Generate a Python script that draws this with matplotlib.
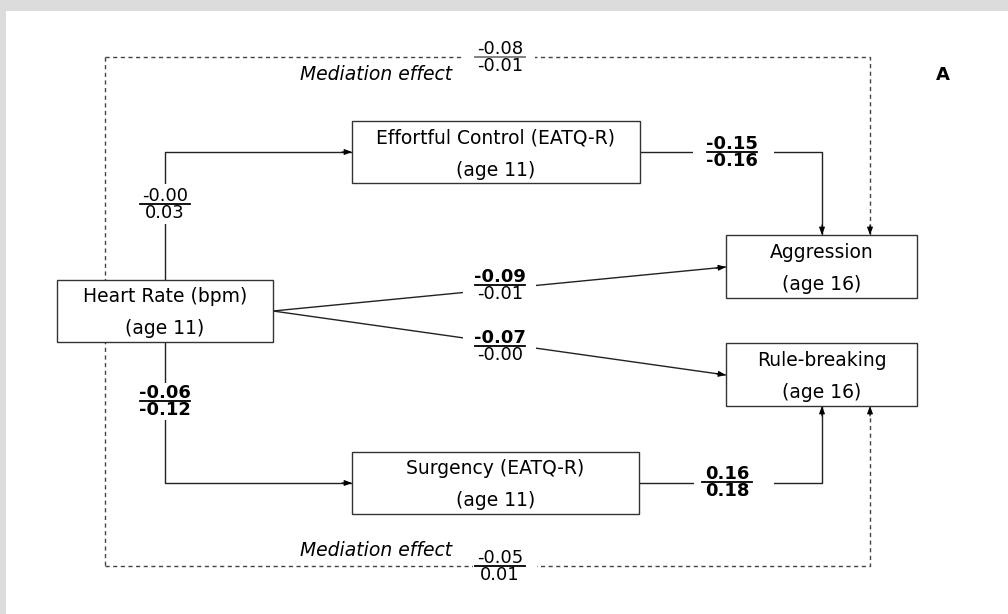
import matplotlib
matplotlib.use("Agg")
import matplotlib.pyplot as plt
from matplotlib.patches import Rectangle, FancyArrowPatch

# ---------------- data ----------------
box_titles = ["Heart Rate (bpm)", "Effortful Control (EATQ-R)", "Surgency (EATQ-R)",
              "Aggression", "Rule-breaking"]
box_ages = ["(age 11)", "(age 11)", "(age 11)", "(age 16)", "(age 16)"]

path_names = ["HR-EC", "HR-SU", "EC-AG", "SU-RB", "HR-AG", "HR-RB", "MED-AG", "MED-RB"]
coef_top = ["-0.00", "-0.06", "-0.15", "0.16", "-0.09", "-0.07", "-0.08", "-0.05"]
coef_bottom = ["0.03", "-0.12", "-0.16", "0.18", "-0.01", "-0.00", "-0.01", "0.01"]
top_bold = [False, True, True, True, True, True, False, False]
bottom_bold = [False, True, True, True, False, False, False, False]

mediation_label = "Mediation effect"
panel_label = "A"

# ---------------- layout (pixel-like coordinates, y downward) ----------------
W, H = 1008, 614
box_rects = [(57, 280, 216, 62), (352, 121, 288, 62), (352, 452, 287, 62),
             (726, 235, 191, 63), (726, 343, 191, 63)]

# polylines for each path, label center, and mask (x0, x1, y0, y1)
paths = {
    "HR-EC": dict(pts=[(165, 280), (165, 152), (352, 152)], lab=(165, 204),
                  mask=(130, 200, 184, 224), dashed=False),
    "HR-SU": dict(pts=[(165, 342), (165, 483), (352, 483)], lab=(165, 401),
                  mask=(130, 200, 383, 420), dashed=False),
    "EC-AG": dict(pts=[(640, 152), (822, 152), (822, 235)], lab=(732, 152),
                  mask=(693, 774, 135, 170), dashed=False),
    "SU-RB": dict(pts=[(639, 483), (822, 483), (822, 406)], lab=(727, 482),
                  mask=(694, 774, 465, 500), dashed=False),
    "HR-AG": dict(pts=[(273, 311), (726, 267)], lab=(500, 285),
                  mask=(463, 536, 268, 302), dashed=False),
    "HR-RB": dict(pts=[(273, 311), (726, 375)], lab=(500, 346),
                  mask=(463, 536, 329, 363), dashed=False),
    "MED-AG": dict(pts=[(105, 57), (870, 57), (870, 235)], lab=(500, 57),
                   mask=(464, 535, 38, 76), dashed=True),
    "MED-RB": dict(pts=[(105, 566), (870, 566), (870, 406)], lab=(500, 566),
                   mask=(473, 537, 548, 585), dashed=True),
}

FONT = "DejaVu Sans"
LINE_C = "#222222"
DASH_C = "#444444"

fig = plt.figure(figsize=(W / 100, H / 100), dpi=100, facecolor="#dcdcdc")
ax = fig.add_axes([0, 0, 1, 1])
ax.set_xlim(0, W)
ax.set_ylim(H, 0)
ax.axis("off")

# white panel
ax.add_patch(Rectangle((6, 11), W - 6, H - 11, facecolor="white", edgecolor="none", zorder=0))

# left dashed frame side
ax.plot([105, 105], [57, 566], color=DASH_C, lw=1.0, ls=(0, (3, 2.5)), zorder=1)

for name, top, bot, tb, bb in zip(path_names, coef_top, coef_bottom, top_bold, bottom_bold):
    p = paths[name]
    xs = [q[0] for q in p["pts"]]
    ys = [q[1] for q in p["pts"]]
    style = dict(color=DASH_C, lw=1.0, ls=(0, (3, 2.5))) if p["dashed"] else dict(color=LINE_C, lw=1.0)
    ax.plot(xs, ys, zorder=1, solid_capstyle="butt", **style)
    # arrowhead at end
    (xa, ya), (xb, yb) = p["pts"][-2], p["pts"][-1]
    L = ((xb - xa) ** 2 + (yb - ya) ** 2) ** 0.5
    ux, uy = (xb - xa) / L, (yb - ya) / L
    arr = FancyArrowPatch((xb - ux * 10, yb - uy * 10), (xb, yb),
                          arrowstyle="-|>,head_length=0.45,head_width=0.17",
                          mutation_scale=10, color="black", lw=0.8,
                          shrinkA=0, shrinkB=0, zorder=1.5)
    ax.add_patch(arr)
    # mask for the label gap
    x0, x1, y0, y1 = p["mask"]
    ax.add_patch(Rectangle((x0, y0), x1 - x0, y1 - y0, facecolor="white",
                           edgecolor="none", zorder=2))
    cx, cy = p["lab"]
    ax.text(cx, cy - 8, top, ha="center", va="center", fontsize=13, family=FONT,
            fontweight="bold" if tb else "normal", zorder=3)
    ax.text(cx, cy + 9, bot, ha="center", va="center", fontsize=13, family=FONT,
            fontweight="bold" if bb else "normal", zorder=3)
    bar_c = "#777777" if name == "MED-AG" else "black"
    ax.plot([cx - 25, cx + 25], [cy, cy], color=bar_c, lw=1.3, zorder=3)

# boxes
for (x, y, w, h), t, a in zip(box_rects, box_titles, box_ages):
    ax.add_patch(Rectangle((x, y), w, h, facecolor="white", edgecolor="#333333",
                           lw=1.0, zorder=2.5))
    ax.text(x + w / 2, y + 17, t, ha="center", va="center", fontsize=13.5,
            family=FONT, zorder=3)
    ax.text(x + w / 2, y + 49, a, ha="center", va="center", fontsize=13.5,
            family=FONT, zorder=3)

# mediation labels
ax.text(452, 74, mediation_label, ha="right", va="center", fontsize=13.5,
        family=FONT, style="italic", zorder=3)
ax.text(452, 551, mediation_label, ha="right", va="center", fontsize=13.5,
        family=FONT, style="italic", zorder=3)

# panel label
ax.text(943, 75, panel_label, ha="center", va="center", fontsize=13,
        family=FONT, fontweight="bold", zorder=3)

fig.savefig("out.png", dpi=100, facecolor=fig.get_facecolor())
